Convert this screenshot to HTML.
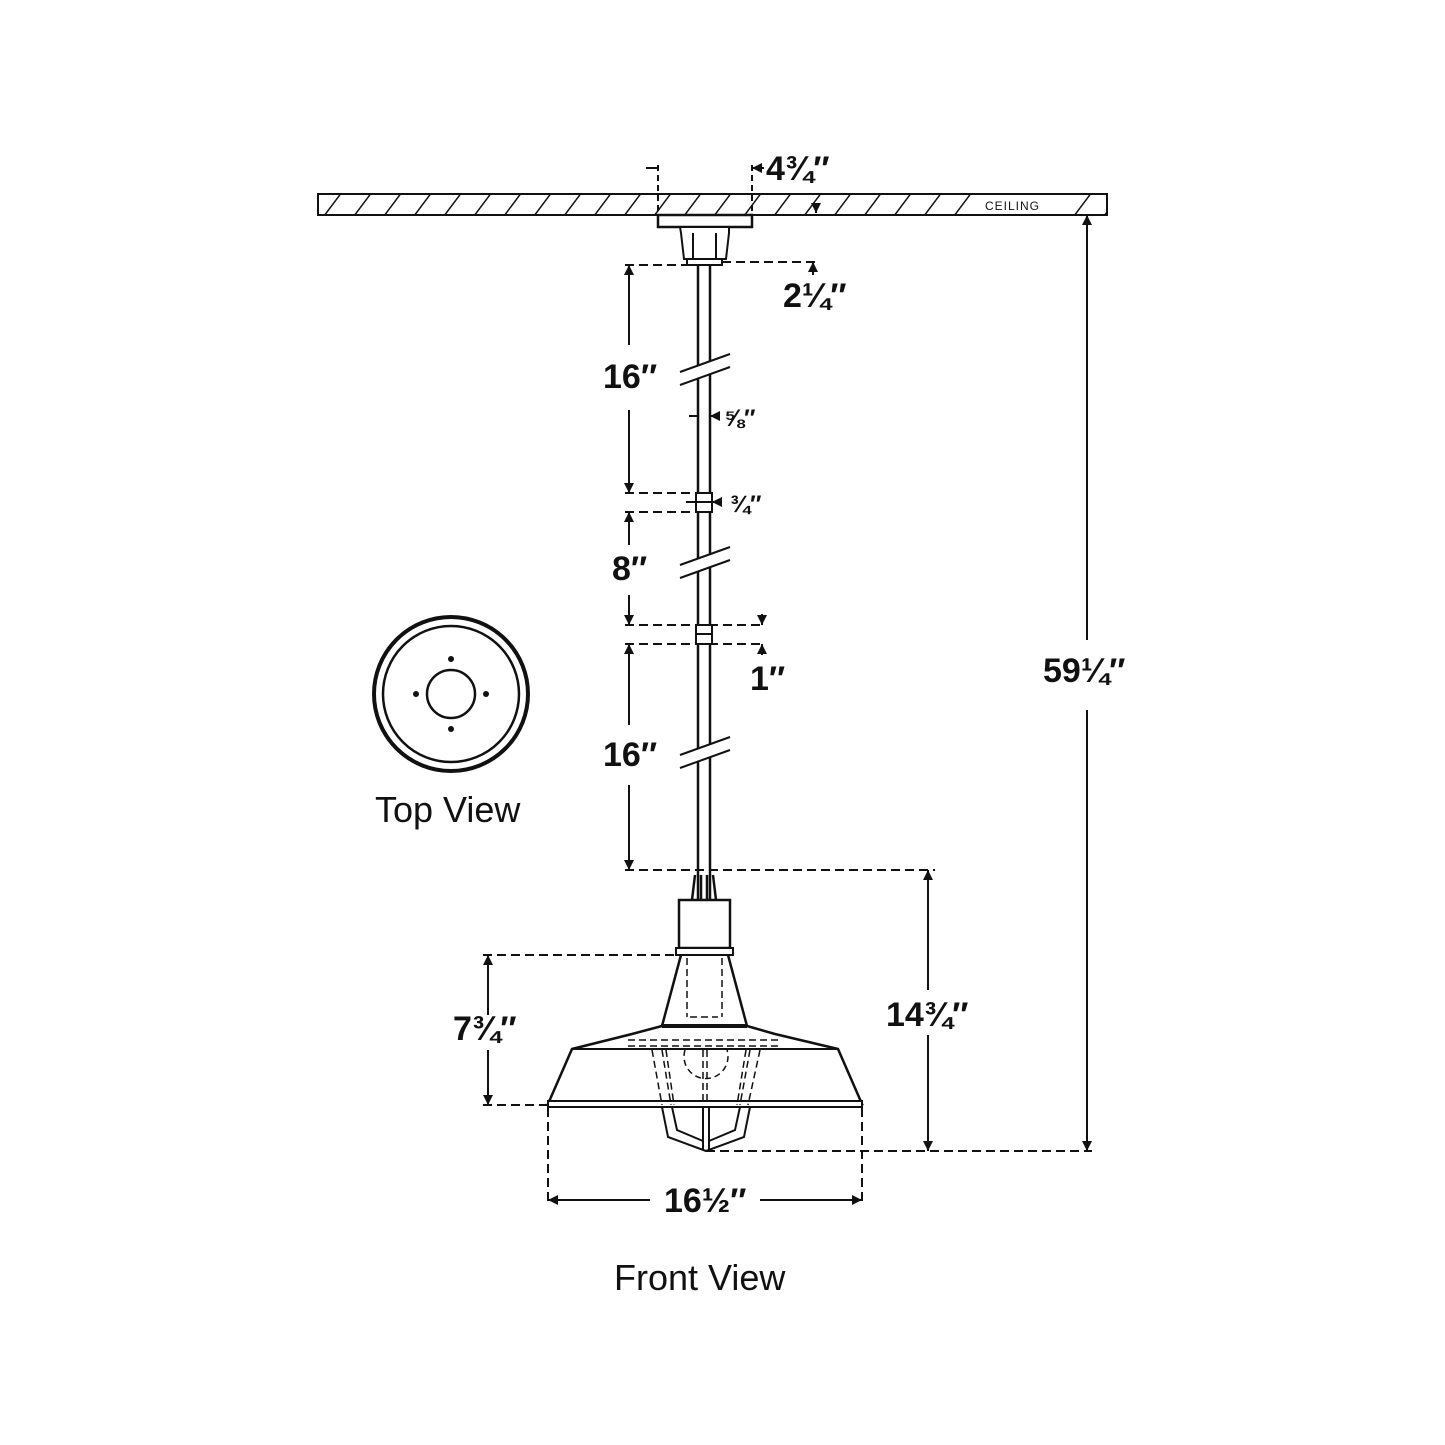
<!DOCTYPE html>
<html><head><meta charset="utf-8"><style>
html,body{margin:0;padding:0;background:#fff}
svg{display:block}
text{font-family:"Liberation Sans",sans-serif;fill:#111}
.d{font-size:34px;font-weight:bold}
.s{font-size:24px;font-weight:bold}
</style></head><body>
<svg width="1445" height="1445" viewBox="0 0 1445 1445" xmlns="http://www.w3.org/2000/svg">
<defs>
<marker id="a" viewBox="0 0 10 10" refX="10" refY="5" markerWidth="5" markerHeight="5" orient="auto-start-reverse"><path d="M0,0L10,5L0,10z" fill="#111"/></marker>
<clipPath id="cc"><rect x="318" y="194" width="789" height="21"/></clipPath>
</defs>
<g stroke="#111" fill="none" stroke-width="2">
<!-- ceiling -->
<rect x="318" y="194" width="789" height="21"/>
<g clip-path="url(#cc)" stroke-width="1.5">
<path d="M318,224L348,184M348,224L378,184M378,224L408,184M408,224L438,184M438,224L468,184M468,224L498,184M498,224L528,184M528,224L558,184M558,224L588,184M588,224L618,184M618,224L648,184M648,224L678,184M678,224L708,184M708,224L738,184M738,224L768,184M768,224L798,184M798,224L828,184M828,224L858,184M858,224L888,184M888,224L918,184M918,224L948,184M948,224L978,184M1068,224L1098,184M1098,224L1128,184"/>
</g>
<rect x="970" y="198" width="85" height="14" fill="#fff" stroke="none"/>
<!-- canopy -->
<rect x="658" y="215" width="94" height="12" fill="#fff" stroke-width="2.5"/>
<path d="M680,227H729V233L726,259H684L681,233Z" fill="#fff"/>
<path d="M693,233V259M716,233V259"/>
<rect x="687" y="259" width="35" height="6" fill="#fff"/>
<!-- 4 3/4 dim -->
<path d="M658,165V215M752,165V215" stroke-dasharray="6,4"/>
<path d="M646,168H658M764,168H752" marker-end="url(#a)"/>
<path d="M752,215H1107" stroke-dasharray="8,5"/>
<path d="M816,205V213" marker-end="url(#a)"/>
<!-- stem -->
<path d="M698,265V900M710,265V900" stroke-width="2.5"/>
<!-- breaks -->
<g fill="#fff">
<path d="M680,372L730,354L730,367L680,385Z" stroke="none"/>
<path d="M680,372L730,354M680,385L730,367"/>
<path d="M680,565L730,547L730,560L680,578Z" stroke="none"/>
<path d="M680,565L730,547M680,578L730,560"/>
<path d="M680,755L730,737L730,750L680,768Z" stroke="none"/>
<path d="M680,755L730,737M680,768L730,750"/>
</g>
<!-- couplings -->
<rect x="696" y="493" width="16" height="19" fill="#fff"/><path d="M696,502H712"/>
<rect x="696" y="625" width="16" height="19" fill="#fff"/><path d="M696,634H712"/>
<!-- dashed horizontals -->
<g stroke-dasharray="9,5">
<path d="M625,265H690M722,262H818"/>
<path d="M625,493H696M625,512H696"/>
<path d="M625,625H765M625,644H765"/>
<path d="M625,870H935"/>
<path d="M483,955H680M483,1105H548"/>
<path d="M706,1151H1092"/>
<path d="M548,1108V1205M862,1108V1205"/>
</g>
<!-- vertical dims -->
<path d="M629,345V265" marker-end="url(#a)"/>
<path d="M629,410V493" marker-end="url(#a)"/>
<path d="M629,545V512" marker-end="url(#a)"/>
<path d="M629,595V625" marker-end="url(#a)"/>
<path d="M629,725V644" marker-end="url(#a)"/>
<path d="M629,785V870" marker-end="url(#a)"/>
<path d="M813,275V262" marker-end="url(#a)"/>
<path d="M762,614V625" marker-end="url(#a)"/>
<path d="M762,655V644" marker-end="url(#a)"/>
<path d="M689,416H698M720,416H710" marker-end="url(#a)"/>
<path d="M686,502H696M722,502H712" marker-end="url(#a)"/>
<path d="M488,1015V955" marker-end="url(#a)"/>
<path d="M488,1050V1105" marker-end="url(#a)"/>
<path d="M928,990V870" marker-end="url(#a)"/>
<path d="M928,1035V1151" marker-end="url(#a)"/>
<path d="M1087,640V215" marker-end="url(#a)"/>
<path d="M1087,710V1151" marker-end="url(#a)"/>
<path d="M650,1200H548" marker-end="url(#a)"/>
<path d="M760,1200H862" marker-end="url(#a)"/>
<!-- socket / wires -->
<path d="M695,875L692,900M701,875V900M707,875V900M713,875L716,900" stroke-width="2.5"/>
<rect x="679" y="900" width="51" height="48" fill="#fff" stroke-width="2.5"/>
<rect x="676" y="948" width="57" height="7" fill="#fff"/>
<!-- cone -->
<path d="M681,955L662,1026H747L728,955" stroke-width="2.5"/>
<path d="M687,958V1017M722,958V1017M690,1017H718" stroke-dasharray="7,4" stroke-width="1.5"/>
<!-- shade -->
<path d="M662,1026L632,1034L572,1049L548,1104H862L838,1049L775,1034L747,1026" fill="#fff" stroke-width="2.5"/>
<path d="M662,1026H747" stroke-width="4"/>
<path d="M572,1049H838" stroke-width="2"/>
<rect x="548" y="1101" width="314" height="6" fill="#fff"/>
<path d="M628,1040H780M628,1046H780" stroke-dasharray="7,4" stroke-width="1.5"/>
<path d="M685,1050A22,22 0 1,0 727,1050" stroke-dasharray="6,4" stroke-width="1.5"/>
<path d="M652,1050L662,1105M662,1050L671,1105M666,1050L674,1105M760,1050L748,1105M750,1050L740,1105M746,1050L737,1105M703,1050V1105M707,1050V1105" stroke-dasharray="7,4" stroke-width="1.5"/>
<!-- cage -->
<path d="M662,1107L668,1137L706,1151L744,1137L750,1107" stroke-width="2"/>
<path d="M672,1107L677,1130L703,1141M740,1107L735,1130L709,1141M703,1107V1150M709,1107V1150" stroke-width="2"/>
<!-- top view -->
<circle cx="451" cy="694" r="77" stroke-width="4"/>
<circle cx="451" cy="694" r="68" stroke-width="2.5"/>
<circle cx="451" cy="694" r="24" stroke-width="2.5"/>
</g>
<g fill="#111">
<circle cx="451" cy="659" r="3"/><circle cx="451" cy="729" r="3"/><circle cx="416" cy="694" r="3"/><circle cx="486" cy="694" r="3"/>
</g>
<text x="985" y="210" font-size="12" style="letter-spacing:1px">CEILING</text>
<text class="d" x="766" y="180">4¾″</text>
<text class="d" x="783" y="307">2¼″</text>
<text class="d" x="603" y="388">16″</text>
<text class="s" x="724" y="426">⅝″</text>
<text class="s" x="730" y="512">¾″</text>
<text class="d" x="612" y="580">8″</text>
<text class="d" x="750" y="690">1″</text>
<text class="d" x="603" y="766">16″</text>
<text class="d" x="1043" y="682">59¼″</text>
<text class="d" x="886" y="1026">14¾″</text>
<text class="d" x="453" y="1040">7¾″</text>
<text class="d" x="664" y="1212">16½″</text>
<text x="375" y="822" font-size="36">Top View</text>
<text x="614" y="1290" font-size="36">Front View</text>
</svg>
</body></html>
